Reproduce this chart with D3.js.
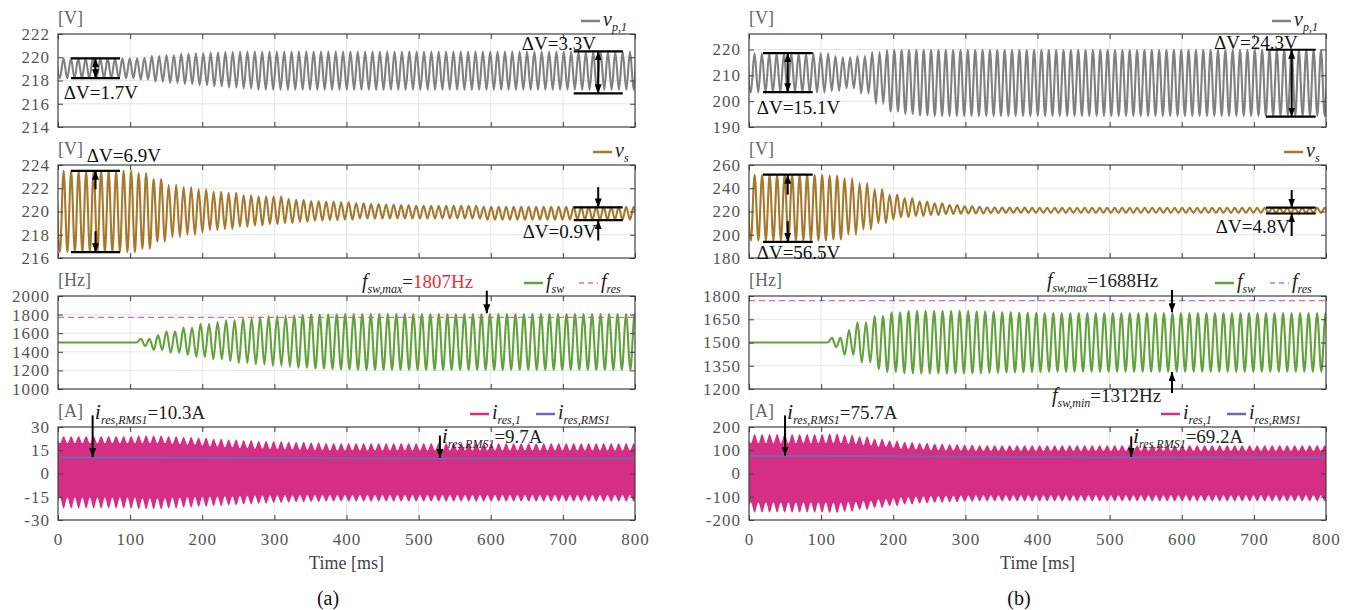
<!DOCTYPE html>
<html lang="en">
<head>
<meta charset="UTF-8">
<title>Transient waveforms (a) / (b)</title>
<script src="https://d3js.org/d3.v7.min.js"></script>
<style>
  body { margin: 0; background: #fff; }
  svg, svg text { font-family: "Liberation Serif", "Times New Roman", serif !important; }
  .tick text { fill: #555; font-size: 17px; letter-spacing: 1px; }
  .frame .domain { display: none; }
  .frame line { stroke: #404040; }
</style>
</head>
<body>
<svg width="1355" height="610" font-family="Liberation Serif, serif"></svg>
<script>
// ---------------- data ----------------
const timeTicks = [0, 100, 200, 300, 400, 500, 600, 700, 800];
const envStep = 20;          // ms between envelope samples (41 samples, 0..800 ms)
const rmsStep = 100;         // ms between RMS samples

// oscillation periods [ms]
const periodVp1 = 10.2, periodVs = 10.4, periodFsw = 11.8, periodIres = 10.4;
const fresValue = 1770;

// y tick labels
const ticksVp1A = [214, 216, 218, 220, 222];
const ticksVsA = [216, 218, 220, 222, 224];
const ticksFswA = [1000, 1200, 1400, 1600, 1800, 2000];
const ticksIresA = [-30, -15, 0, 15, 30];
const ticksVp1B = [190, 200, 210, 220];
const ticksVsB = [180, 200, 220, 240, 260];
const ticksFswB = [1200, 1350, 1500, 1650, 1800];
const ticksIresB = [-200, -100, 0, 100, 200];

// ---- (a) ----
const vp1A_max = [219.9, 219.9, 219.9, 219.9, 219.9, 219.9, 219.95, 220.1, 220.2, 220.3,
  220.35, 220.4, 220.45, 220.5, 220.5, 220.5, 220.5, 220.5, 220.5, 220.5,
  220.5, 220.5, 220.5, 220.5, 220.5, 220.5, 220.5, 220.5, 220.5, 220.5,
  220.5, 220.5, 220.5, 220.5, 220.5, 220.5, 220.5, 220.5, 220.5, 220.5, 220.5];
const vp1A_min = [218.2, 218.2, 218.2, 218.2, 218.2, 218.2, 218.1, 217.9, 217.8, 217.7,
  217.6, 217.5, 217.4, 217.3, 217.2, 217.2, 217.2, 217.2, 217.2, 217.2,
  217.2, 217.2, 217.2, 217.2, 217.2, 217.2, 217.2, 217.2, 217.2, 217.2,
  217.2, 217.2, 217.2, 217.2, 217.2, 217.2, 217.2, 217.2, 217.2, 217.2, 217.2];
const vsA_max = [223.5, 223.5, 223.5, 223.5, 223.5, 223.5, 223.3, 222.8, 222.3, 222.1,
  221.9, 221.7, 221.6, 221.4, 221.3, 221.3, 221.1, 221.0, 220.9, 220.85,
  220.8, 220.7, 220.65, 220.6, 220.55, 220.5, 220.5, 220.5, 220.5, 220.5,
  220.4, 220.4, 220.4, 220.4, 220.4, 220.4, 220.4, 220.4, 220.4, 220.4, 220.4];
const vsA_min = [216.5, 216.5, 216.5, 216.5, 216.5, 216.5, 216.8, 217.4, 217.8, 218.0,
  218.2, 218.4, 218.5, 218.7, 218.8, 218.9, 219.0, 219.1, 219.2, 219.25,
  219.3, 219.4, 219.4, 219.4, 219.4, 219.4, 219.4, 219.4, 219.4, 219.4,
  219.3, 219.3, 219.3, 219.3, 219.3, 219.3, 219.3, 219.3, 219.3, 219.3, 219.3];
const fswA_max = [1500, 1500, 1500, 1500, 1500, 1500, 1540, 1580, 1620, 1660,
  1700, 1720, 1740, 1760, 1775, 1785, 1790, 1795, 1800, 1803,
  1805, 1807, 1807, 1807, 1807, 1807, 1807, 1807, 1807, 1807,
  1807, 1807, 1807, 1807, 1807, 1807, 1807, 1807, 1807, 1807, 1807];
const fswA_min = [1500, 1500, 1500, 1500, 1500, 1500, 1460, 1420, 1390, 1365,
  1345, 1320, 1300, 1280, 1265, 1250, 1240, 1230, 1220, 1215,
  1210, 1205, 1205, 1205, 1205, 1205, 1205, 1205, 1205, 1205,
  1205, 1205, 1205, 1205, 1205, 1205, 1205, 1205, 1205, 1205, 1205];
const iresA_upOuter = [24, 24, 24, 24, 24, 24, 24.5, 24.5, 24, 23.5,
  23, 22.5, 22, 21.5, 21, 20.8, 20.5, 20.3, 20, 19.5,
  19.5, 19.5, 19.5, 19.5, 19.5, 19.5, 19.5, 19.5, 19.5, 19.5,
  19.5, 19.5, 19.5, 19.5, 19.5, 19.5, 19.5, 19.5, 19.5, 19.5, 19.5];
const iresA_upInner = [19.5, 19.5, 19.5, 19.5, 19.5, 19.5, 19.5, 19.5, 19, 18.5,
  18, 17.5, 17, 16.5, 16, 15.7, 15.5, 15.3, 15, 14.8,
  14.8, 14.8, 14.8, 14.8, 14.8, 14.8, 14.8, 14.8, 14.8, 14.8,
  14.8, 14.8, 14.8, 14.8, 14.8, 14.8, 14.8, 14.8, 14.8, 14.8, 14.8];
const iresA_loOuter = [-22.5, -22.5, -22.5, -22.5, -22.5, -22.5, -23, -23, -22.5, -22,
  -21.5, -21, -20.5, -20, -19.5, -19, -18.8, -18.5, -18.3, -18,
  -18, -18, -18, -18, -18, -18, -18, -18, -18, -18,
  -18, -18, -18, -18, -18, -18, -18, -18, -18, -18, -18];
const iresA_loInner = [-15.5, -15.5, -15.5, -15.5, -15.5, -15.5, -16, -16, -15.5, -15.2,
  -15, -14.8, -14.6, -14.4, -14.2, -14.1, -14, -13.9, -13.8, -13.8,
  -13.8, -13.8, -13.8, -13.8, -13.8, -13.8, -13.8, -13.8, -13.8, -13.8,
  -13.8, -13.8, -13.8, -13.8, -13.8, -13.8, -13.8, -13.8, -13.8, -13.8, -13.8];
const rmsA = [10.3, 10.3, 10.2, 10.0, 9.85, 9.75, 9.7, 9.7, 9.7];

// ---- (b) ----
const vp1B_max = [218.5, 218.5, 218.5, 218.5, 218.5, 218.5, 217.5, 217, 217.5, 219,
  219.8, 219.9, 219.9, 219.9, 219.9, 219.9, 219.9, 219.9, 219.9, 219.9,
  219.9, 219.9, 219.9, 219.9, 219.9, 219.9, 219.9, 219.9, 219.9, 219.9,
  219.9, 219.9, 219.9, 219.9, 219.9, 219.9, 219.9, 219.9, 219.9, 219.9, 219.9];
const vp1B_min = [203.3, 203.3, 203.3, 203.3, 203.3, 203.3, 204, 205, 203, 199,
  196, 195, 194.5, 194.2, 194.2, 194.2, 194.2, 194.2, 194.2, 194.2,
  194.2, 194.2, 194.2, 194.2, 194.2, 194.2, 194.2, 194.2, 194.2, 194.2,
  194.2, 194.2, 194.2, 194.2, 194.2, 194.2, 194.2, 194.2, 194.2, 194.2, 194.2];
const vsB_max = [251.5, 251.5, 251.5, 251.5, 251.5, 251.5, 251, 248.5, 244.5, 239,
  234.5, 231.5, 228.5, 227, 225.5, 224.5, 224, 223.6, 223.4, 223.3,
  223.2, 223.2, 223.2, 223.2, 223.2, 223.2, 223.2, 223.2, 223.2, 223.2,
  223.2, 223.2, 223.2, 223.2, 223.2, 223.2, 223.2, 223.2, 223.2, 223.2, 223.2];
const vsB_min = [195, 195, 195, 195, 195, 195, 196, 200, 204.5, 210,
  213.2, 215, 216.2, 217, 217.8, 218.2, 218.4, 218.6, 218.7, 218.8,
  218.8, 218.8, 218.8, 218.8, 218.8, 218.8, 218.8, 218.8, 218.8, 218.8,
  218.8, 218.8, 218.8, 218.8, 218.8, 218.8, 218.8, 218.8, 218.8, 218.8, 218.8];
const fswB_max = [1500, 1500, 1500, 1500, 1500, 1500, 1530, 1580, 1630, 1670,
  1695, 1703, 1705, 1705, 1705, 1705, 1702, 1700, 1697, 1694,
  1692, 1690, 1690, 1690, 1690, 1690, 1690, 1690, 1690, 1690,
  1690, 1690, 1690, 1690, 1690, 1690, 1690, 1690, 1690, 1690, 1690];
const fswB_min = [1500, 1500, 1500, 1500, 1500, 1500, 1470, 1420, 1370, 1330,
  1310, 1302, 1300, 1300, 1300, 1300, 1302, 1304, 1306, 1308,
  1309, 1311, 1311, 1311, 1311, 1311, 1311, 1311, 1311, 1311,
  1311, 1311, 1311, 1311, 1311, 1311, 1311, 1311, 1311, 1311, 1311];
const iresB_upOuter = [170, 170, 170, 170, 170, 170, 172, 168, 160, 150,
  142, 136, 131, 128, 126, 124, 122, 122, 122, 122,
  122, 122, 122, 122, 122, 122, 122, 122, 122, 122,
  122, 122, 122, 122, 122, 122, 122, 122, 122, 122, 122];
const iresB_upInner = [130, 130, 130, 130, 130, 130, 130, 127, 121, 115,
  110, 106, 103, 100, 99, 98, 97, 97, 97, 97,
  97, 97, 97, 97, 97, 97, 97, 97, 97, 97,
  97, 97, 97, 97, 97, 97, 97, 97, 97, 97, 97];
const iresB_loOuter = [-168, -168, -168, -168, -168, -168, -170, -165, -157, -148,
  -140, -134, -129, -126, -124, -122, -120, -120, -120, -120,
  -120, -120, -120, -120, -120, -120, -120, -120, -120, -120,
  -120, -120, -120, -120, -120, -120, -120, -120, -120, -120, -120];
const iresB_loInner = [-125, -125, -125, -125, -125, -125, -126, -123, -117, -111,
  -106, -102, -99, -97, -96, -95, -94, -94, -94, -94,
  -94, -94, -94, -94, -94, -94, -94, -94, -94, -94,
  -94, -94, -94, -94, -94, -94, -94, -94, -94, -94, -94];
const rmsB = [75.7, 75.7, 74.5, 72.5, 71, 70, 69.5, 69.2, 69.2];

// ---------------- layout / style ----------------
const svg = d3.select("svg");
const panelTops = [34, 165, 296, 427];
const panelH = 93;
const serif = '"Liberation Serif", "Times New Roman", serif';
const colVp1 = "#808080", colVs = "#a6782c", colFsw = "#62a23b",
      colFres = "#e06aa4", colIres = "#d62e85", colRms = "#6b6bb3";

const defs = svg.append("defs");
defs.append("marker").attr("id", "ah")
  .attr("viewBox", "0 0 10 10").attr("refX", 10).attr("refY", 5)
  .attr("markerUnits", "userSpaceOnUse").attr("markerWidth", 9).attr("markerHeight", 7)
  .attr("preserveAspectRatio", "none").attr("orient", "auto-start-reverse")
  .append("path").attr("d", "M0,0L10,5L0,10z").attr("fill", "#000");

let clipN = 0;
function makePanel(x, top, domain, ticks, unit) {
  const y = d3.scaleLinear().domain(domain).range([top + panelH, top]);
  const [x0, x1] = x.range();
  const g = svg.append("g");
  g.append("g").selectAll("line").data(timeTicks.slice(1, -1)).join("line")
    .attr("x1", d => x(d)).attr("x2", d => x(d)).attr("y1", top).attr("y2", top + panelH)
    .attr("stroke", "#e6e6e6");
  g.append("g").selectAll("line").data(ticks.filter(v => v > domain[0] && v < domain[1])).join("line")
    .attr("x1", x0).attr("x2", x1).attr("y1", d => y(d)).attr("y2", d => y(d))
    .attr("stroke", "#e6e6e6");
  const id = "clip" + (clipN++);
  defs.append("clipPath").attr("id", id).append("rect")
    .attr("x", x0).attr("y", top).attr("width", x1 - x0).attr("height", panelH);
  const plot = g.append("g").attr("clip-path", `url(#${id})`);
  g.append("text").attr("x", x0).attr("y", top - 10).attr("fill", "#666")
    .attr("font-size", 18).text(unit);
  return { g, plot, x, y, top, ticks };
}

function finishPanel(p, showX) {
  const { g, x, y, top, ticks } = p;
  const [x0, x1] = x.range();
  g.append("g").attr("class", "frame").attr("transform", `translate(${x0},0)`)
    .call(d3.axisLeft(y).tickValues(ticks).tickSize(-5).tickPadding(8).tickFormat(d => String(d)));
  g.append("g").attr("class", "frame").attr("transform", `translate(${x1},0)`)
    .call(d3.axisRight(y).tickValues(ticks).tickSize(-5).tickFormat(""));
  g.append("g").attr("class", "frame").attr("transform", `translate(0,${top})`)
    .call(d3.axisTop(x).tickValues(timeTicks).tickSize(-5).tickFormat(""));
  g.append("g").attr("class", "frame").attr("transform", `translate(0,${top + panelH})`)
    .call(d3.axisBottom(x).tickValues(timeTicks).tickSize(-5).tickPadding(13)
      .tickFormat(showX ? (d => String(d)) : ""));
  g.append("rect").attr("x", x0).attr("y", top).attr("width", x1 - x0).attr("height", panelH)
    .attr("fill", "none").attr("stroke", "#404040").attr("stroke-width", 1.2);
}

function envIndex(arr, t) {
  return Math.max(0, Math.min(arr.length - 1, Math.round(t / envStep)));
}
// alternating peaks, each peak value taken from the read envelope sample nearest to it
function peaks(maxArr, minArr, period) {
  const pts = [];
  for (let k = 0, t = -period / 4; t <= 800 + period; k++, t = -period / 4 + k * period / 2) {
    const i = envIndex(maxArr, t);
    pts.push([t, k % 2 === 0 ? maxArr[i] : minArr[i]]);
  }
  return pts;
}
function scallops(upO, upI, loO, loI, period) {
  const pts = [];
  for (let k = 0, t = -period / 4; t <= 800 + period; k++, t = -period / 4 + k * period / 2) {
    const i = envIndex(upO, t);
    pts.push({ t, hi: k % 2 === 0 ? upO[i] : upI[i], lo: k % 2 === 0 ? loO[i] : loI[i] });
  }
  return pts;
}

function drawWave(p, maxArr, minArr, period, color) {
  const line = d3.line().x(d => p.x(d[0])).y(d => p.y(d[1])).curve(d3.curveMonotoneX);
  p.plot.append("path").datum(peaks(maxArr, minArr, period))
    .attr("d", line).attr("fill", "none").attr("stroke", color).attr("stroke-width", 2.1);
}
function drawIres(p, upO, upI, loO, loI, rms) {
  const area = d3.area().x(d => p.x(d.t)).y0(d => p.y(d.lo)).y1(d => p.y(d.hi)).curve(d3.curveMonotoneX);
  p.plot.append("path").datum(scallops(upO, upI, loO, loI, periodIres))
    .attr("d", area).attr("fill", colIres);
  const rl = d3.line().x((d, i) => p.x(i * rmsStep)).y(d => p.y(d));
  p.plot.append("path").datum(rms).attr("d", rl).attr("fill", "none")
    .attr("stroke", colRms).attr("stroke-width", 2);
}
function drawFres(p) {
  p.plot.append("path").datum([[0, fresValue], [800, fresValue]])
    .attr("d", d3.line().x(d => p.x(d[0])).y(d => p.y(d[1])))
    .attr("stroke", colFres).attr("stroke-width", 1.2).attr("stroke-dasharray", "6,4");
}

// math-style label: italic base, italic subscript, upright remainder
function mathText(g, x, y, base, sub, rest, baseSize) {
  const bs = baseSize || 20;
  const t = g.append("text").attr("x", x).attr("y", y).attr("fill", "#222");
  t.append("tspan").attr("font-style", "italic").attr("font-size", bs).text(base);
  t.append("tspan").attr("font-style", "italic").attr("font-size", 12).attr("dy", 5).text(sub);
  let first = true;
  (rest || []).forEach(r => {
    const s = t.append("tspan").attr("font-size", 19).attr("fill", r[1] || "#222").text(r[0]);
    if (first) { s.attr("dy", -5); first = false; }
  });
  return t;
}
function legend(p, items) {
  const x1 = p.x.range()[1], yl = p.top - 13;
  items.forEach(it => {
    p.g.append("line").attr("x1", x1 - it.off).attr("x2", x1 - it.off + 19)
      .attr("y1", yl).attr("y2", yl).attr("stroke", it.color).attr("stroke-width", it.dash ? 1.5 : 2.5)
      .attr("stroke-dasharray", it.dash ? "5,4" : null);
    mathText(p.g, x1 - it.off + 22, yl + 5, it.base, it.sub);
  });
}

function hbar(p, t0, t1, v) {
  p.g.append("line").attr("x1", p.x(t0)).attr("x2", p.x(t1)).attr("y1", p.y(v)).attr("y2", p.y(v))
    .attr("stroke", "#000").attr("stroke-width", 2.2);
}
function arrow(p, t, vFrom, vTo, both) {
  p.g.append("line").attr("x1", p.x(t)).attr("x2", p.x(t)).attr("y1", p.y(vFrom)).attr("y2", p.y(vTo))
    .attr("stroke", "#000").attr("stroke-width", 2)
    .attr("marker-end", "url(#ah)").attr("marker-start", both ? "url(#ah)" : null);
}
function plain(p, t, v, str, anchor) {
  p.g.append("text").attr("x", p.x(t)).attr("y", p.y(v)).attr("font-size", 19)
    .attr("fill", "#111").attr("text-anchor", anchor || "start").text(str);
}

// ---------------- column (a) ----------------
const xA = d3.scaleLinear().domain([0, 800]).range([58, 635]);
const a1 = makePanel(xA, panelTops[0], [214, 222], ticksVp1A, "[V]");
drawWave(a1, vp1A_max, vp1A_min, periodVp1, colVp1);
const a2 = makePanel(xA, panelTops[1], [216, 224], ticksVsA, "[V]");
drawWave(a2, vsA_max, vsA_min, periodVs, colVs);
const a3 = makePanel(xA, panelTops[2], [1000, 2000], ticksFswA, "[Hz]");
drawFres(a3);
drawWave(a3, fswA_max, fswA_min, periodFsw, colFsw);
const a4 = makePanel(xA, panelTops[3], [-30, 30], ticksIresA, "[A]");
drawIres(a4, iresA_upOuter, iresA_upInner, iresA_loOuter, iresA_loInner, rmsA);
[a1, a2, a3, a4].forEach((p, i) => finishPanel(p, i === 3));

legend(a1, [{ off: 54, color: colVp1, base: "v", sub: "p,1" }]);
legend(a2, [{ off: 42, color: colVs, base: "v", sub: "s" }]);
legend(a3, [{ off: 111, color: colFsw, base: "f", sub: "sw" }, { off: 56, color: colFres, dash: true, base: "f", sub: "res" }]);
legend(a4, [{ off: 165, color: colIres, base: "i", sub: "res,1" }, { off: 99, color: colRms, base: "i", sub: "res,RMS1" }]);

hbar(a1, 18, 86, 219.9); hbar(a1, 18, 86, 218.2); arrow(a1, 52, 218.2, 219.9, true);
plain(a1, 8, 216.4, "ΔV=1.7V");
hbar(a1, 715, 783, 220.5); hbar(a1, 715, 783, 216.9); arrow(a1, 749, 216.9, 220.5, true);
plain(a1, 643, 220.6, "ΔV=3.3V");

hbar(a2, 18, 86, 223.5); hbar(a2, 18, 86, 216.5);
arrow(a2, 52, 221.9, 223.5); arrow(a2, 52, 218.3, 216.5);
plain(a2, 40, 224.25, "ΔV=6.9V");
hbar(a2, 715, 783, 220.35); hbar(a2, 715, 783, 219.25);
arrow(a2, 749, 222.1, 220.35); arrow(a2, 749, 217.5, 219.25);
plain(a2, 747, 217.75, "ΔV=0.9V", "end");

mathText(a3.g, xA(421.5), a3.y(2090), "f", "sw,max", [["="], ["1807Hz", "#e8303a"]]);
arrow(a3, 594.5, 2057, 1815);

mathText(a4.g, xA(51), a4.y(35), "i", "res,RMS1", [["=10.3A"]], 22);
arrow(a4, 48, 37.5, 10.6);
mathText(a4.g, xA(532), a4.y(19.7), "i", "res,RMS1", [["=9.7A"]], 22);
arrow(a4, 529.5, 24.5, 10.1);

// ---------------- column (b) ----------------
const xB = d3.scaleLinear().domain([0, 800]).range([749, 1326]);
const b1 = makePanel(xB, panelTops[0], [190, 226], ticksVp1B, "[V]");
drawWave(b1, vp1B_max, vp1B_min, periodVp1, colVp1);
const b2 = makePanel(xB, panelTops[1], [180, 260], ticksVsB, "[V]");
drawWave(b2, vsB_max, vsB_min, periodVs, colVs);
const b3 = makePanel(xB, panelTops[2], [1200, 1800], ticksFswB, "[Hz]");
drawFres(b3);
drawWave(b3, fswB_max, fswB_min, periodFsw, colFsw);
const b4 = makePanel(xB, panelTops[3], [-200, 200], ticksIresB, "[A]");
drawIres(b4, iresB_upOuter, iresB_upInner, iresB_loOuter, iresB_loInner, rmsB);
[b1, b2, b3, b4].forEach((p, i) => finishPanel(p, i === 3));

legend(b1, [{ off: 54, color: colVp1, base: "v", sub: "p,1" }]);
legend(b2, [{ off: 42, color: colVs, base: "v", sub: "s" }]);
legend(b3, [{ off: 111, color: colFsw, base: "f", sub: "sw" }, { off: 56, color: colFres, dash: true, base: "f", sub: "res" }]);
legend(b4, [{ off: 165, color: colIres, base: "i", sub: "res,1" }, { off: 99, color: colRms, base: "i", sub: "res,RMS1" }]);

hbar(b1, 19.4, 88.3, 218.6); hbar(b1, 19.4, 88.3, 203.5); arrow(b1, 53.7, 203.5, 218.6, true);
plain(b1, 10.7, 195.0, "ΔV=15.1V");
hbar(b1, 716.8, 785.7, 219.9); hbar(b1, 716.8, 785.7, 194.0); arrow(b1, 752.4, 194.0, 219.9, true);
plain(b1, 644.7, 220.2, "ΔV=24.3V");

hbar(b2, 19.4, 88.3, 251.7); hbar(b2, 19.4, 88.3, 193.9);
arrow(b2, 53.7, 234.5, 251.7); arrow(b2, 53.7, 211.7, 193.9);
plain(b2, 10.7, 179.1, "ΔV=56.5V");
hbar(b2, 716.8, 785.7, 223.4); hbar(b2, 716.8, 785.7, 218.3);
arrow(b2, 752.4, 238.5, 223.4); arrow(b2, 752.4, 198.9, 218.3);
plain(b2, 750, 201.5, "ΔV=4.8V", "end");

mathText(b3.g, xB(413), b3.y(1855), "f", "sw,max", [["=1688Hz"]]);
arrow(b3, 586.5, 1839, 1695);
mathText(b3.g, xB(420), b3.y(1116), "f", "sw,min", [["=1312Hz"]]);
arrow(b3, 586.5, 1174, 1310);

mathText(b4.g, xB(52.7), b4.y(234), "i", "res,RMS1", [["=75.7A"]], 22);
arrow(b4, 50, 250, 77);
mathText(b4.g, xB(532.4), b4.y(131), "i", "res,RMS1", [["=69.2A"]], 22);
arrow(b4, 530, 160, 72);

// ---------------- axis titles / captions ----------------
[[xA, "(a)", 328], [xB, "(b)", 1019]].forEach(([x, tag, tx]) => {
  const [x0, x1] = x.range();
  svg.append("text").attr("x", (x0 + x1) / 2).attr("y", 569).attr("text-anchor", "middle")
    .attr("font-size", 18).attr("fill", "#444").text("Time [ms]");
  svg.append("text").attr("x", tx).attr("y", 605).attr("text-anchor", "middle")
    .attr("font-size", 20).attr("fill", "#111").text(tag);
});

// serif everywhere (d3 axes set their own sans-serif attribute)
svg.selectAll("g.frame").attr("font-family", serif);
svg.selectAll("text").style("font-family", serif);
</script>
</body>
</html>
